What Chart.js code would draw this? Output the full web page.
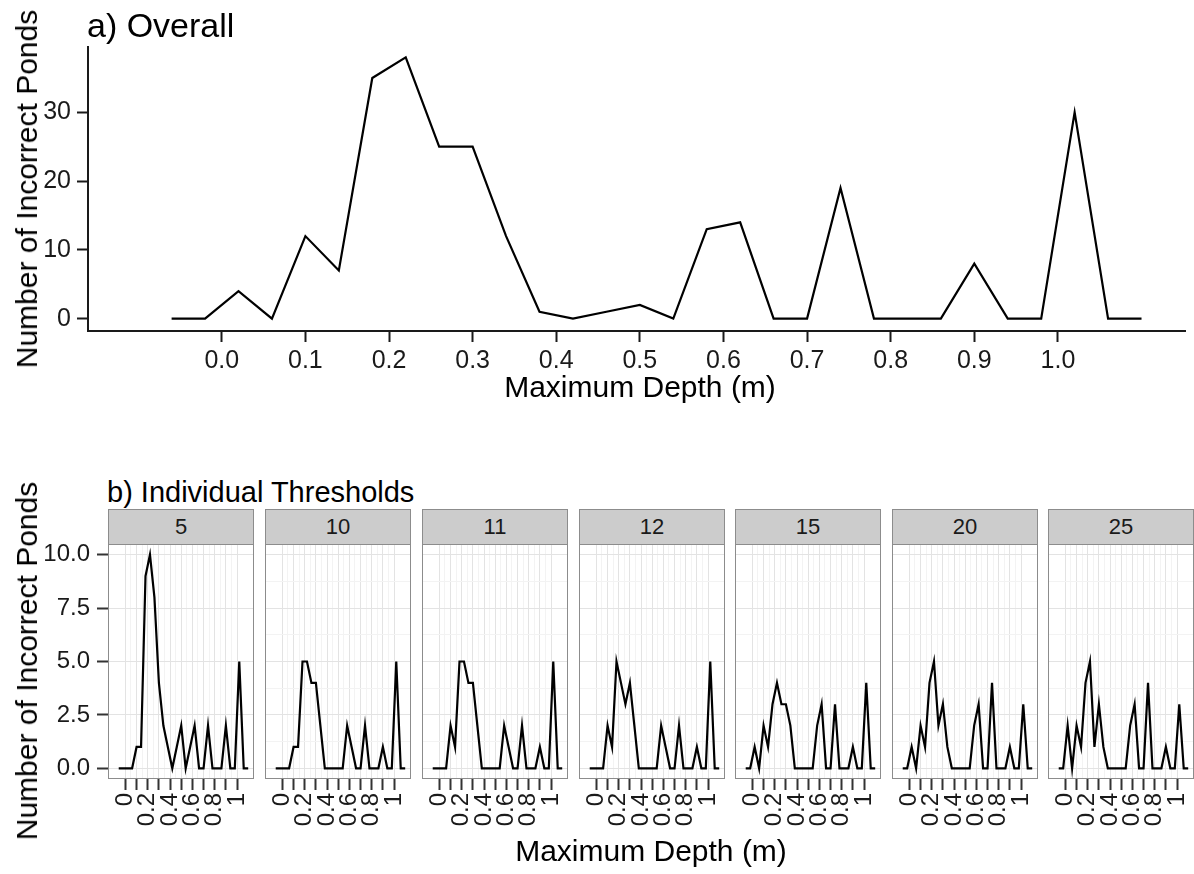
<!DOCTYPE html>
<html>
<head>
<meta charset="utf-8">
<script src="https://cdn.jsdelivr.net/npm/chart.js@4.4.1/dist/chart.umd.min.js"></script>
<style>
  body { margin: 0; width: 1194px; height: 874px; overflow: hidden; background: #fff; position: relative;
         font-family: "Liberation Sans", Arial, sans-serif; color: #000; }
  canvas { position: absolute; }
  .txt { position: absolute; white-space: nowrap; line-height: 1; }
  .strip { position: absolute; background: #cccccc; border: 1px solid #8c8c8c; box-sizing: border-box;
           display: flex; align-items: center; justify-content: center; font-size: 22px; color: #1a1a1a; }
</style>
</head>
<body>
<script>
// depth bins (m), shared by every series
const depths = [-0.06, -0.02, 0.02, 0.06, 0.10, 0.14, 0.18, 0.22, 0.26, 0.30,
                0.34, 0.38, 0.42, 0.46, 0.50, 0.54, 0.58, 0.62, 0.66, 0.70,
                0.74, 0.78, 0.82, 0.86, 0.90, 0.94, 0.98, 1.02, 1.06, 1.10];

// a) overall
const overallCounts = [0, 0, 4, 0, 12, 7, 35, 38, 25, 25, 12, 1, 0, 1, 2, 0, 13, 14, 0, 0, 19, 0, 0, 0, 8, 0, 0, 30, 0, 0];

// b) individual thresholds
const thresholds = ["5", "10", "11", "12", "15", "20", "25"];
const counts5  = [0, 0, 0, 0, 1, 1, 9, 10, 8, 4, 2, 1, 0, 1, 2, 0, 1, 2, 0, 0, 2, 0, 0, 0, 2, 0, 0, 5, 0, 0];
const counts10 = [0, 0, 0, 0, 1, 1, 5, 5, 4, 4, 2, 0, 0, 0, 0, 0, 2, 1, 0, 0, 2, 0, 0, 0, 1, 0, 0, 5, 0, 0];
const counts11 = [0, 0, 0, 0, 2, 1, 5, 5, 4, 4, 2, 0, 0, 0, 0, 0, 2, 1, 0, 0, 2, 0, 0, 0, 1, 0, 0, 5, 0, 0];
const counts12 = [0, 0, 0, 0, 2, 1, 5, 4, 3, 4, 2, 0, 0, 0, 0, 0, 2, 1, 0, 0, 2, 0, 0, 0, 1, 0, 0, 5, 0, 0];
const counts15 = [0, 0, 1, 0, 2, 1, 3, 4, 3, 3, 2, 0, 0, 0, 0, 0, 2, 3, 0, 0, 3, 0, 0, 0, 1, 0, 0, 4, 0, 0];
const counts20 = [0, 0, 1, 0, 2, 1, 4, 5, 2, 3, 1, 0, 0, 0, 0, 0, 2, 3, 0, 0, 4, 0, 0, 0, 1, 0, 0, 3, 0, 0];
const counts25 = [0, 0, 2, 0, 2, 1, 4, 5, 1, 3, 1, 0, 0, 0, 0, 0, 2, 3, 0, 0, 4, 0, 0, 0, 1, 0, 0, 3, 0, 0];
const facetCounts = [counts5, counts10, counts11, counts12, counts15, counts20, counts25];

// ticks
const overallXTicks = [0, 0.1, 0.2, 0.3, 0.4, 0.5, 0.6, 0.7, 0.8, 0.9, 1.0];
const overallYTicks = [0, 10, 20, 30];
const facetXTicks = [0, 0.1, 0.2, 0.3, 0.4, 0.5, 0.6, 0.7, 0.8, 0.9, 1.0];
const facetXLabelled = [0, 0.2, 0.4, 0.6, 0.8, 1];
const facetYTicks = [0, 2.5, 5, 7.5, 10];

Chart.defaults.font.family = '"Liberation Sans", Arial, sans-serif';
Chart.defaults.color = '#1a1a1a';

function withMinor(major) {
  const out = [];
  major.forEach((v, i) => {
    out.push(v);
    if (i < major.length - 1) out.push((v + major[i + 1]) / 2);
  });
  return out;
}
const isIn = (list, v) => list.some(m => Math.abs(m - v) < 1e-9);

// grey box round each facet panel
const panelBox = {
  id: 'panelBox',
  afterDraw(chart, args, opts) {
    if (!opts.color) return;
    const a = chart.chartArea, c = chart.ctx;
    c.save();
    c.strokeStyle = opts.color;
    c.lineWidth = 1;
    c.strokeRect(a.left + 0.5, a.top + 0.5, a.right - a.left - 1, a.bottom - a.top - 1);
    c.restore();
  }
};

function addCanvas(left, top, w, h) {
  const cv = document.createElement('canvas');
  cv.width = w; cv.height = h;
  cv.style.left = left + 'px'; cv.style.top = top + 'px';
  document.body.appendChild(cv);
  return cv;
}

function addText(str, x, baseline, size, align) {
  const d = document.createElement('div');
  d.className = 'txt';
  d.textContent = str;
  d.style.fontSize = size + 'px';
  d.style.left = x + 'px';
  d.style.top = (baseline - 0.8465 * size) + 'px';
  if (align === 'center') d.style.transform = 'translateX(-50%)';
  document.body.appendChild(d);
}

function addVText(str, cx, cy, size) {
  const d = document.createElement('div');
  d.className = 'txt';
  d.textContent = str;
  d.style.fontSize = size + 'px';
  d.style.left = cx + 'px';
  d.style.top = cy + 'px';
  d.style.transform = 'translate(-50%,-50%) rotate(-90deg)';
  document.body.appendChild(d);
}

// ---- a) Overall ----
new Chart(addCanvas(0, 0, 1194, 420), {
  type: 'line',
  data: {
    datasets: [{
      data: depths.map((d, i) => ({ x: d, y: overallCounts[i] })),
      borderColor: '#000', borderWidth: 2.2, pointRadius: 0, tension: 0, fill: false
    }]
  },
  options: {
    responsive: false, animation: false, events: [],
    layout: { padding: { top: 47, right: 9, left: 0, bottom: 0 } },
    plugins: { legend: { display: false }, tooltip: { enabled: false } },
    scales: {
      x: {
        type: 'linear', min: -0.16, max: 1.152,
        afterBuildTicks: s => { s.ticks = overallXTicks.map(v => ({ value: v })); },
        afterFit: s => { s.height = 89; s.paddingLeft = 0; s.paddingRight = 0; },
        border: { display: true, color: '#1a1a1a', width: 2 },
        grid: { drawOnChartArea: false, tickLength: 11, tickWidth: 2, tickColor: '#1a1a1a' },
        ticks: { autoSkip: false, maxRotation: 0, padding: 4, font: { size: 25 },
                 callback: v => v.toFixed(1) }
      },
      y: {
        min: -1.8, max: 39.5,
        afterBuildTicks: s => { s.ticks = overallYTicks.map(v => ({ value: v })); },
        afterFit: s => { s.width = 88; s.paddingTop = 0; s.paddingBottom = 0; },
        border: { display: true, color: '#1a1a1a', width: 2 },
        grid: { drawOnChartArea: false, tickLength: 11, tickWidth: 2, tickColor: '#1a1a1a' },
        ticks: { padding: 6, font: { size: 25 }, callback: v => String(v) }
      }
    }
  }
});

addText('a) Overall', 87, 37, 34);
addText('Maximum Depth (m)', 640, 397, 30, 'center');
addVText('Number of Incorrect Ponds', 27, 189, 30);

// ---- b) Individual Thresholds ----
const panelLefts = [108, 265, 422, 579, 735, 892, 1048];
const panelW = 146;

thresholds.forEach((t, i) => {
  const first = i === 0;
  const left = panelLefts[i];
  const yw = first ? left : 0;

  const strip = document.createElement('div');
  strip.className = 'strip';
  strip.textContent = t;
  strip.style.left = left + 'px';
  strip.style.top = '509px';
  strip.style.width = panelW + 'px';
  strip.style.height = '36px';
  document.body.appendChild(strip);

  new Chart(addCanvas(left - yw, 543, yw + panelW + 1, 297), {
    type: 'line',
    data: {
      datasets: [{
        data: depths.map((d, k) => ({ x: d, y: facetCounts[i][k] })),
        borderColor: '#000', borderWidth: 2.2, pointRadius: 0, tension: 0, fill: false
      }]
    },
    options: {
      responsive: false, animation: false, events: [],
      layout: { padding: { top: 1, right: 1, left: 0, bottom: 0 } },
      plugins: { legend: { display: false }, tooltip: { enabled: false }, panelBox: { color: '#8c8c8c' } },
      scales: {
        x: {
          type: 'linear', min: -0.156, max: 1.152,
          afterBuildTicks: s => { s.ticks = withMinor(facetXTicks).map(v => ({ value: v })); },
          afterFit: s => { s.height = 61; s.paddingLeft = 0; s.paddingRight = 0; },
          border: { display: false },
          grid: {
            color: ctx => ctx.tick && !isIn(facetXTicks, ctx.tick.value) ? '#f3f3f3' : '#e3e3e3',
            tickLength: 11, tickWidth: 2,
            tickColor: ctx => ctx.tick && !isIn(facetXTicks, ctx.tick.value) ? 'rgba(0,0,0,0)' : '#333'
          },
          ticks: {
            autoSkip: false, minRotation: 90, maxRotation: 90, padding: 3, font: { size: 24 },
            callback: v => isIn(facetXLabelled, v) ? String(Number(v.toFixed(1))) : ''
          }
        },
        y: {
          min: -0.5, max: 10.5,
          afterBuildTicks: s => { s.ticks = withMinor(facetYTicks).map(v => ({ value: v })); },
          afterFit: s => { s.width = yw; s.paddingTop = 0; s.paddingBottom = 0; },
          border: { display: false },
          grid: {
            color: ctx => ctx.tick && !isIn(facetYTicks, ctx.tick.value) ? '#f3f3f3' : '#e3e3e3',
            drawTicks: first, tickLength: 11, tickWidth: 2,
            tickColor: ctx => ctx.tick && !isIn(facetYTicks, ctx.tick.value) ? 'rgba(0,0,0,0)' : '#333'
          },
          ticks: {
            display: first, padding: 7, font: { size: 24 },
            callback: v => isIn(facetYTicks, v) ? v.toFixed(1) : ''
          }
        }
      }
    },
    plugins: [panelBox]
  });
});

addText('b) Individual Thresholds', 107, 503, 29);
addText('Maximum Depth (m)', 651, 861, 30, 'center');
addVText('Number of Incorrect Ponds', 27, 661, 30);
</script>
</body>
</html>
